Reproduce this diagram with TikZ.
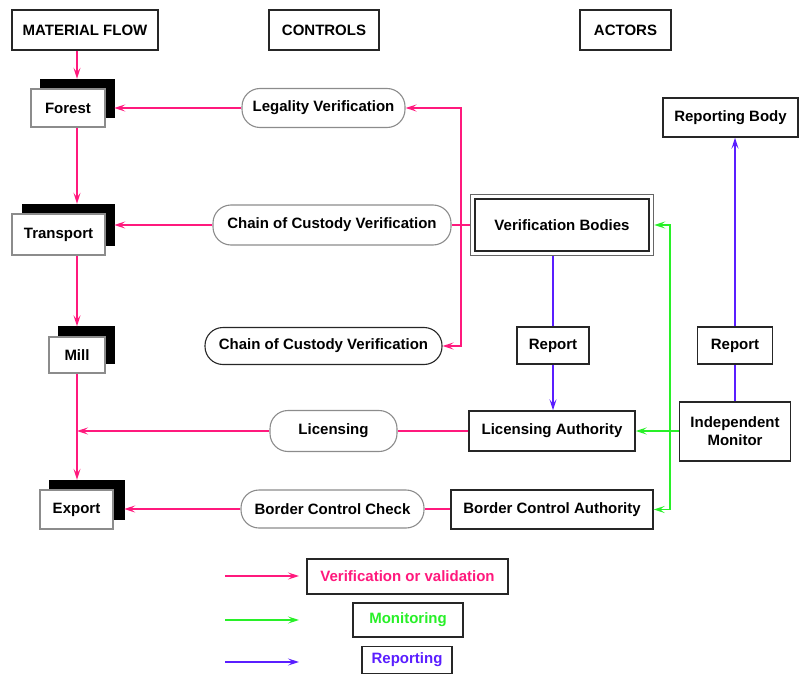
\documentclass[tikz,border=0pt]{standalone}
\usepackage{fontspec}
\setmainfont{Liberation Sans}
\usetikzlibrary{arrows.meta,fit,calc}
\definecolor{vpink}{RGB}{255,25,125}
\definecolor{mgreen}{RGB}{40,240,40}
\definecolor{rblue}{RGB}{90,30,255}
\begin{document}
\begin{tikzpicture}[x=1pt,y=-1pt,
  every node/.style={font=\bfseries\fontsize{15}{17}\selectfont, inner sep=0pt},
  hdr/.style={draw=black!85, line width=1.4pt, fill=white, minimum height=40pt},
  act/.style={draw=black!85, line width=1.4pt, fill=white},
  ctl/.style={draw=black!45, line width=1.1pt, rounded corners=18pt, fill=white},
  stage/.style={draw=black!45, line width=1.1pt, fill=white},
  shadowbox/.style={fill=black, draw=black},
  arr/.style={-{Stealth[length=11pt,width=7pt,inset=4.5pt]}},
  vlink/.style={draw=vpink, line width=1.5pt},
  mlink/.style={draw=mgreen, line width=1.5pt},
  rlink/.style={draw=rblue, line width=1.5pt}]
\useasboundingbox (0,0) rectangle (800,674);
% headers
\node[hdr, minimum width=146pt] (mf) at (85,30) {MATERIAL FLOW};
\node[hdr, minimum width=110pt] (ctrl) at (324,30) {CONTROLS};
\node[hdr, minimum width=91pt] (actors) at (625.5,30) {ACTORS};
% material flow stages
\node[shadowbox, minimum width=74pt, minimum height=38pt] (forestS) at (77,98) {};
\node[stage, minimum width=74pt, minimum height=38pt] (forest) at (68,108) {Forest};
\node[shadowbox, minimum width=92pt, minimum height=41pt] (transportS) at (68,224.5) {};
\node[stage, minimum width=93pt, minimum height=41pt] (transport) at (58.5,234.5) {Transport};
\node[shadowbox, minimum width=56pt, minimum height=37pt] (millS) at (86,345) {};
\node[stage, minimum width=56pt, minimum height=36pt] (mill) at (77,355) {Mill};
\node[shadowbox, minimum width=75pt, minimum height=39pt] (exportS) at (86.5,499.5) {};
\node[stage, minimum width=73pt, minimum height=39pt] (export) at (76.5,509.5) {Export};
% controls
\node[ctl, minimum width=163pt, minimum height=39pt] (legal) at (323.5,108) {Legality Verification};
\node[ctl, minimum width=238pt, minimum height=40pt] (coc1) at (332,225) {Chain of Custody Verification};
\node[ctl, draw=black!85, minimum width=237pt, minimum height=37pt] (coc2) at (323.5,346) {Chain of Custody Verification};
\node[ctl, minimum width=127pt, minimum height=41pt] (lic) at (333.5,431) {Licensing};
\node[ctl, minimum width=183pt, minimum height=38pt] (bcc) at (332.5,509) {Border Control Check};
% actors
\node[act, minimum width=174pt, minimum height=52pt] (vb) at (562,225) {Verification Bodies};
\node[fit=(vb), inner sep=4pt, draw=black!60, line width=1pt] (vbo) {};
\node[act, minimum width=72pt, minimum height=37pt] (rep1) at (553,345.5) {Report};
\node[act, minimum width=166pt, minimum height=40pt] (la) at (552,431) {Licensing Authority};
\node[act, minimum width=202pt, minimum height=39pt] (bca) at (552,509.5) {Border Control Authority};
\node[act, minimum width=135pt, minimum height=39pt] (rb) at (730.5,117.5) {Reporting Body};
\node[act, minimum width=75pt, minimum height=37pt] (rep2) at (735,345.5) {Report};
\node[act, minimum width=111pt, minimum height=59pt, align=center] (im) at (735,431.5) {Independent\\[1pt]Monitor};
% legend
\node[act, minimum width=201pt, minimum height=35pt, text=vpink] (lv) at (407.5,576.5) {Verification or validation};
\node[act, minimum width=110pt, minimum height=34pt, text=mgreen] (lm) at (408,620) {Monitoring};
\node[act, minimum width=90pt, minimum height=27pt, text=rblue] (lr) at (407,660) {Reporting};
\coordinate (lv1) at (225,576); \coordinate (lv2) at (299,576);
\coordinate (lm1) at (225,620); \coordinate (lm2) at (299,620);
\coordinate (lr1) at (225,662); \coordinate (lr2) at (299,662);
\draw[vlink, arr] (lv1) -- (lv2);
\draw[mlink, arr] (lm1) -- (lm2);
\draw[rlink, arr] (lr1) -- (lr2);
% material flow spine
\coordinate (spine) at (77,0);
\draw[vlink, arr] (mf.south -| spine) -- (forestS.north -| spine);
\draw[vlink, arr] (forest.south -| spine) -- (transportS.north -| spine);
\draw[vlink, arr] (transport.south -| spine) -- (millS.north -| spine);
\draw[vlink, arr] (mill.south -| spine) -- (exportS.north -| spine);
% verification links
\draw[vlink, arr] (legal.west) -- (legal.west -| forestS.east);
\draw[vlink, arr] (coc1.west) -- (coc1.west -| transportS.east);
\draw[vlink, arr] (lic.west) -- (lic.west -| spine);
\draw[vlink, arr] (bcc.west) -- (bcc.west -| exportS.east);
\draw[vlink] (la.west) -- (lic.east);
\draw[vlink] (bca.west |- bcc.east) -- (bcc.east);
\coordinate (pj) at (461,225);
\draw[vlink] (vbo.west) -- (coc1.east);
\draw[vlink, arr] (pj) |- (legal.east);
\draw[vlink, arr] (pj) |- (coc2.east);
% reporting links
\draw[rlink] (vbo.south -| rep1.north) -- (rep1.north);
\draw[rlink, arr] (rep1.south) -- (rep1.south |- la.north);
\draw[rlink] (im.north) -- (im.north |- rep2.south);
\draw[rlink, arr] (rep2.north) -- (rep2.north |- rb.south);
% monitoring links
\coordinate (gj) at (670,431);
\draw[mlink, arr] (im.west |- gj) -- (gj -| la.east);
\draw[mlink, arr] (gj) |- (vbo.east);
\draw[mlink, arr] (gj) |- (bca.east);
\end{tikzpicture}
\end{document}
